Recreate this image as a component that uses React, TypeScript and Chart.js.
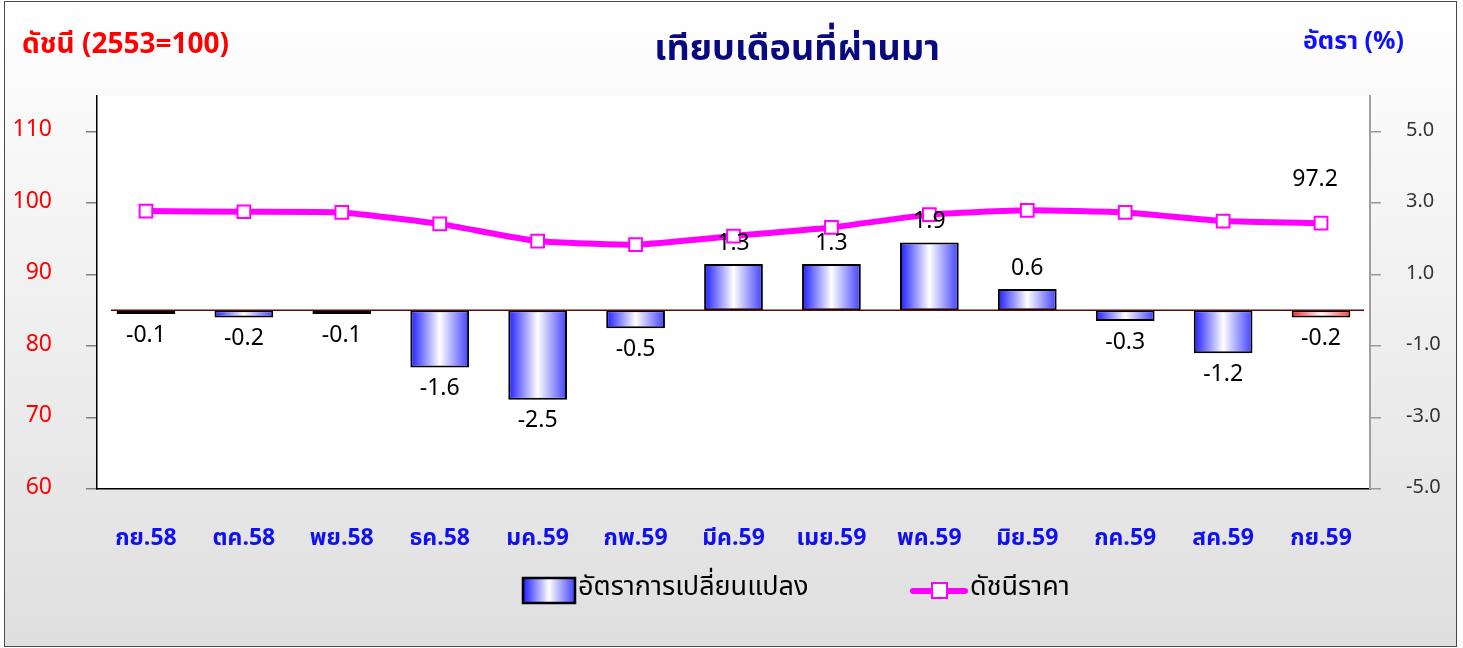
import React, { useEffect, useRef } from 'react';
import { Chart, registerables } from 'chart.js';
Chart.register(...registerables);

const categories = ['กย.58', 'ตค.58', 'พย.58', 'ธค.58', 'มค.59', 'กพ.59', 'มีค.59', 'เมย.59', 'พค.59', 'มิย.59', 'กค.59', 'สค.59', 'กย.59'];
const changeRate = [-0.1, -0.2, -0.1, -1.6, -2.5, -0.5, 1.3, 1.3, 1.9, 0.6, -0.3, -1.2, -0.2];
const priceIndex = [98.9, 98.8, 98.7, 97.1, 94.7, 94.2, 95.4, 96.6, 98.4, 99.0, 98.7, 97.5, 97.2];
const leftTicks = [60, 70, 80, 90, 100, 110];
const rightTicks = [-5, -3, -1, 1, 3, 5];

const FONT = "Tahoma, 'Noto Sans Thai', 'Noto Sans', sans-serif";
const BAR_PCT = 0.6;

function barGradient(ctx: CanvasRenderingContext2D, x0: number, x1: number, red: boolean) {
  const g = ctx.createLinearGradient(x0, 0, x1, 0);
  if (red) {
    g.addColorStop(0, '#ff1a1a');
    g.addColorStop(0.5, '#ffffff');
    g.addColorStop(1, '#ff3b3b');
  } else {
    g.addColorStop(0, '#1c1cff');
    g.addColorStop(0.5, '#ffffff');
    g.addColorStop(1, '#4040ff');
  }
  return g;
}

const decorPlugin = {
  id: 'decor',
  beforeDraw(chart: any) {
    const { ctx, chartArea: a } = chart;
    ctx.save();
    ctx.fillStyle = '#ffffff';
    ctx.fillRect(a.left, a.top, a.right - a.left, a.bottom - a.top);
    ctx.restore();
  },
  afterDatasetDraw(chart: any, args: any) {
    if (args.index !== 0) return;
    const { ctx, chartArea: a } = chart;
    const y = chart.scales.y1.getPixelForValue(0);
    ctx.save();
    ctx.strokeStyle = '#5a0a0a';
    ctx.lineWidth = 1.5;
    ctx.beginPath();
    ctx.moveTo(a.left + 14, y);
    ctx.lineTo(a.right - 6, y);
    ctx.stroke();
    ctx.restore();
  },
  afterDraw(chart: any) {
    const { ctx } = chart;
    ctx.save();
    const meta = chart.getDatasetMeta(0);
    ctx.fillStyle = '#000';
    ctx.font = `23px ${FONT}`;
    ctx.textAlign = 'center';
    ctx.textBaseline = 'middle';
    meta.data.forEach((el: any, i: number) => {
      const v = changeRate[i];
      const y = v < 0 ? el.y + 23 : el.y - 19;
      ctx.fillText(v.toFixed(1), el.x, y);
    });
    const lmeta = chart.getDatasetMeta(1);
    const last = lmeta.data[lmeta.data.length - 1];
    ctx.fillText(priceIndex[priceIndex.length - 1].toFixed(1), last.x - 6, last.y - 42);

    ctx.font = `bold 36px ${FONT}`;
    ctx.fillStyle = '#0a0a80';
    ctx.fillText('เทียบเดือนที่ผ่านมา', 797, 53);
    ctx.font = `bold 28px ${FONT}`;
    ctx.fillStyle = '#ff0000';
    ctx.textAlign = 'left';
    ctx.fillText('ดัชนี (2553=100)', 22, 47);
    ctx.font = `bold 25px ${FONT}`;
    ctx.fillStyle = '#1010ff';
    ctx.textAlign = 'right';
    ctx.fillText('อัตรา (%)', 1404, 44);

    const bx = 523, by = 578, bw = 52, bh = 25;
    ctx.fillStyle = barGradient(ctx, bx, bx + bw, false);
    ctx.fillRect(bx, by, bw, bh);
    ctx.strokeStyle = '#000';
    ctx.lineWidth = 2.5;
    ctx.strokeRect(bx, by, bw, bh);
    ctx.fillStyle = '#000';
    ctx.textAlign = 'left';
    ctx.font = `27px ${FONT}`;
    ctx.fillText('อัตราการเปลี่ยนแปลง', 578, 590);

    ctx.strokeStyle = '#ff00ff';
    ctx.lineWidth = 6;
    ctx.lineCap = 'round';
    ctx.beginPath();
    ctx.moveTo(913, 591);
    ctx.lineTo(965, 591);
    ctx.stroke();
    ctx.fillStyle = '#ffffff';
    ctx.fillRect(932, 583, 15, 15);
    ctx.strokeStyle = '#ff00ff';
    ctx.lineWidth = 2;
    ctx.strokeRect(932, 583, 15, 15);
    ctx.fillStyle = '#000';
    ctx.fillText('ดัชนีราคา', 970, 590);
    ctx.restore();
  },
};

export default function App() {
  const ref = useRef<HTMLCanvasElement | null>(null);
  useEffect(() => {
    if (!ref.current) return;
    const chart = new Chart(ref.current, {
      type: 'bar',
      data: {
        labels: categories,
        datasets: [
          {
            type: 'bar',
            label: 'อัตราการเปลี่ยนแปลง',
            data: changeRate,
            yAxisID: 'y1',
            order: 1,
            barPercentage: BAR_PCT,
            categoryPercentage: 1,
            borderColor: '#000000',
            borderWidth: 2,
            borderSkipped: false,
            backgroundColor: (c: any) => {
              const xs = c.chart.scales?.x;
              if (!xs || c.dataIndex === undefined) return '#6666ff';
              const cx = xs.getPixelForValue(c.dataIndex);
              const w = (xs.width / categories.length) * BAR_PCT;
              if (!isFinite(cx) || !isFinite(w) || w <= 0) return '#6666ff';
              return barGradient(c.chart.ctx, cx - w / 2, cx + w / 2, c.dataIndex === categories.length - 1);
            },
          } as any,
          {
            type: 'line',
            label: 'ดัชนีราคา',
            data: priceIndex,
            yAxisID: 'y',
            order: 0,
            borderColor: '#ff00ff',
            borderWidth: 6,
            tension: 0.15,
            pointStyle: 'rect',
            pointRadius: 9,
            pointBackgroundColor: '#ffffff',
            pointBorderColor: '#ff00ff',
            pointBorderWidth: 2,
          } as any,
        ],
      },
      options: {
        responsive: false,
        animation: false,
        layout: { padding: { top: 96, left: 0, right: 0, bottom: 0 } },
        plugins: { legend: { display: false }, title: { display: false }, tooltip: { enabled: false } },
        scales: {
          x: {
            offset: true,
            grid: { display: false },
            border: { display: true, color: '#000', width: 1.5 },
            ticks: { color: '#1010f0', font: { family: FONT, size: 23, weight: 'bold' }, padding: 30, maxRotation: 0, autoSkip: false },
            afterFit: (s: any) => { s.height = 159; },
          },
          y: {
            position: 'left',
            min: 60,
            max: 115,
            afterBuildTicks: (s: any) => { s.ticks = leftTicks.map((v) => ({ value: v })); },
            grid: { drawOnChartArea: false, drawTicks: true, tickLength: 11, color: '#808080', lineWidth: 1.5 },
            border: { display: true, color: '#000', width: 1.5 },
            ticks: { color: '#ff0000', font: { family: FONT, size: 23 }, padding: 34 },
            afterFit: (s: any) => { s.width = 97; },
          },
          y1: {
            position: 'right',
            min: -5,
            max: 6,
            afterBuildTicks: (s: any) => { s.ticks = rightTicks.map((v) => ({ value: v })); },
            grid: { drawOnChartArea: false, drawTicks: true, tickLength: 11, color: '#999999', lineWidth: 1.5 },
            border: { display: true, color: '#a0a0a0', width: 2 },
            ticks: { color: '#333333', font: { family: FONT, size: 20 }, padding: 25, crossAlign: 'near', callback: (v: any) => Number(v).toFixed(1) },
            afterFit: (s: any) => { s.width = 93; },
          },
        },
      },
      plugins: [decorPlugin],
    });
    return () => chart.destroy();
  }, []);

  return (
    <div style={{ position: 'absolute', left: 0, top: 0, width: 1463, height: 648 }}>
      <div
        style={{
          position: 'absolute',
          left: 4,
          top: 1,
          width: 1451,
          height: 644,
          border: '1.5px solid #4a4a4a',
          background: 'linear-gradient(#ffffff, #dfdfdf)',
        }}
      />
      <canvas ref={ref} width={1463} height={648} style={{ position: 'absolute', left: 0, top: 0, width: 1463, height: 648 }} />
    </div>
  );
}
